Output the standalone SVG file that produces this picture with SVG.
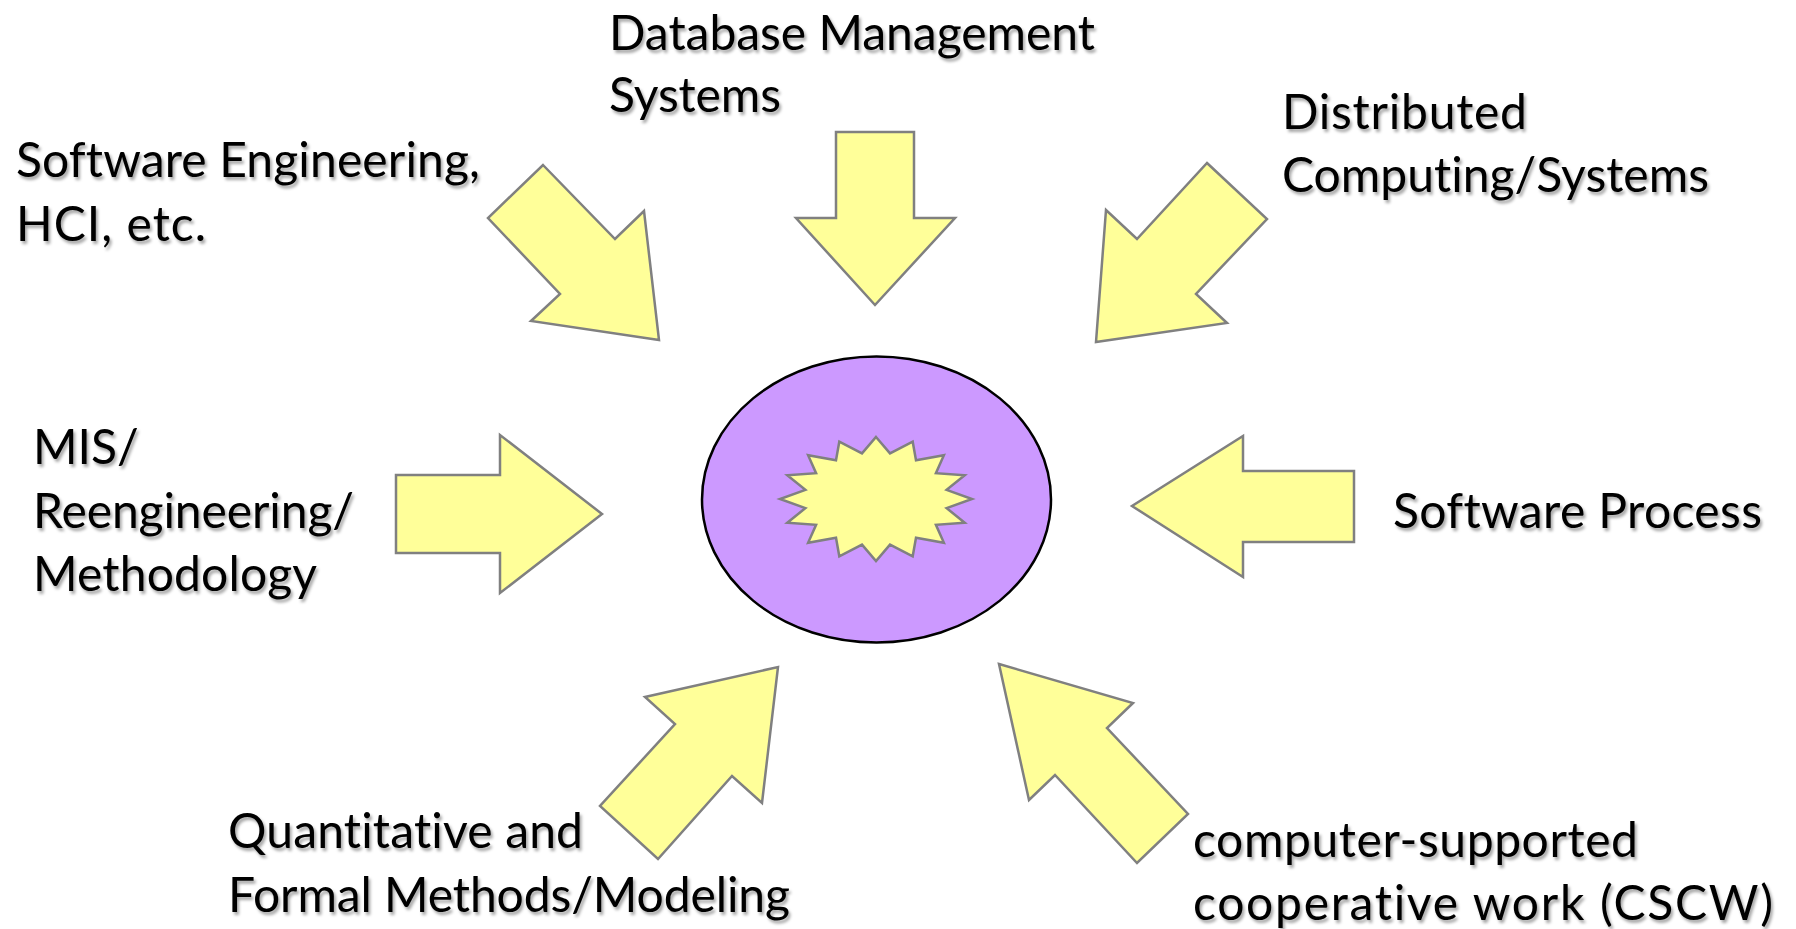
<svg xmlns="http://www.w3.org/2000/svg" width="1796" height="929" viewBox="0 0 1796 929">
<defs>
<filter id="shadow" x="-5%" y="-20%" width="110%" height="150%">
<feDropShadow dx="2" dy="3" stdDeviation="1.5" flood-color="#000" flood-opacity="0.35"/>
</filter>
<style>
.arrow{fill:#FFFF99;stroke:#808080;stroke-width:2.5;stroke-linejoin:miter}
.lbl{font-family:Lato,"Open Sans","Liberation Sans",sans-serif;font-size:48px;fill:#000;filter:url(#shadow);font-variant-ligatures:none}
</style>
</defs>
<rect width="1796" height="929" fill="#fff"/>
<g id="center">
<ellipse cx="876.5" cy="499.5" rx="174.5" ry="143" fill="#CC99FF" stroke="#000" stroke-width="2.5"/>
<polygon class="arrow" points="876,437 890,453.4 912.7,441.7 916,460.3 943.9,455.2 935.9,473.2 964.7,475.3 946.6,489.9 972,499 946.6,508.1 964.7,522.7 935.9,524.8 943.9,542.8 916,537.7 912.7,556.3 890,544.6 876,561 862,544.6 839.3,556.3 836,537.7 808.1,542.8 816.1,524.8 787.3,522.7 805.4,508.1 780,499 805.4,489.9 787.3,475.3 816.1,473.2 808.1,455.2 836,460.3 839.3,441.7 862,453.4"/>
</g>
<g id="connectors">
<polygon id="arrow-db" class="arrow" points="836,132 914,132 914,218 955,218 875,305 796,218 836,218"/>
<polygon id="arrow-se" class="arrow" points="543,165 615,239 644,211 659,340 531,321 560,294 488,218"/>
<polygon id="arrow-dist" class="arrow" points="1207,163 1267,219 1196,294 1227,323 1096,342 1106,210 1137,239"/>
<polygon id="arrow-mis" class="arrow" points="396,475 500,475 500,435 602,514 500,593 500,553 396,553"/>
<polygon id="arrow-sp" class="arrow" points="1354,471 1243,471 1243,436 1132,506 1243,577 1243,542 1354,542"/>
<polygon id="arrow-quant" class="arrow" points="778,667 762,803 732,776 658,859 600,806 675,724 645,697"/>
<polygon id="arrow-cscw" class="arrow" points="999,664 1133,703 1107,728 1188,814 1137,863 1055,775 1029,800"/>
</g>
<g id="label-db"><text class="lbl" x="609" y="50" textLength="486">Database Management</text><text class="lbl" x="609" y="112" textLength="172">Systems</text></g>
<g id="label-se"><text class="lbl" x="16" y="177" textLength="464">Software Engineering,</text><text class="lbl" x="16" y="241" textLength="190">HCI, etc.</text></g>
<g id="label-dist"><text class="lbl" x="1282" y="129" textLength="245">Distributed</text><text class="lbl" x="1282" y="192" textLength="427">Computing/Systems</text></g>
<g id="label-mis"><text class="lbl" x="33" y="464">MIS/</text><text class="lbl" x="33" y="528" textLength="321">Reengineering/</text><text class="lbl" x="33" y="591" textLength="284">Methodology</text></g>
<g id="label-sp"><text class="lbl" x="1393" y="528" textLength="369">Software Process</text></g>
<g id="label-quant"><text class="lbl" x="228" y="848" textLength="355">Quantitative and</text><text class="lbl" x="228" y="912" textLength="562">Formal Methods/Modeling</text></g>
<g id="label-cscw"><text class="lbl" x="1193" y="857" textLength="445">computer-supported</text><text class="lbl" x="1193" y="920" textLength="580">cooperative work (CSCW)</text></g>
</svg>
